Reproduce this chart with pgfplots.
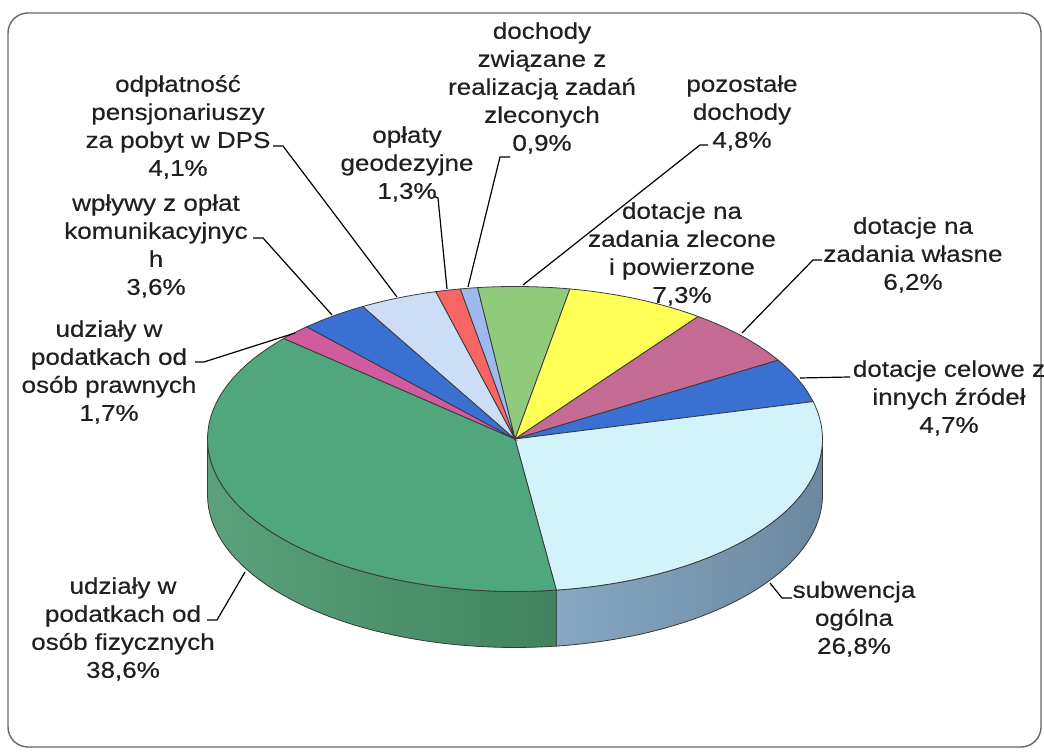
\documentclass[border=0pt]{standalone}
\usepackage{pgfplots}
\pgfplotsset{compat=1.18}
\usepackage{fontspec}
\setmainfont{Liberation Sans}[FakeStretch=1.14, FakeBold=0.4]
\definecolor{cA}{HTML}{90CB7C}
\definecolor{cB}{HTML}{FFFF55}
\definecolor{cC}{HTML}{C46A93}
\definecolor{cD}{HTML}{3A70D2}
\definecolor{cE}{HTML}{D2F3FC}
\definecolor{cEs}{HTML}{7DA0BC}
\definecolor{cF}{HTML}{50A67D}
\definecolor{cFs}{HTML}{4C9A70}
\definecolor{cG}{HTML}{D25A9E}
\definecolor{cH}{HTML}{3A70D2}
\definecolor{cI}{HTML}{CCDDF6}
\definecolor{cJ}{HTML}{F76565}
\definecolor{cK}{HTML}{9DB9EF}
\definecolor{edge}{HTML}{3A3A3A}
\definecolor{txt}{HTML}{202020}
\newcommand\lbl{\fontsize{11.4}{14}\selectfont}
\def\cx{515}\def\cy{314}\def\ra{307.5}\def\rb{152.5}\def\dep{56}
\begin{document}
\begin{tikzpicture}
\begin{axis}[scale only axis, width=522pt, height=376.5pt,
  xmin=0, xmax=1044, ymin=0, ymax=753, hide axis, clip=false]
\path (rel axis cs:0,0) rectangle (rel axis cs:1,1);
\draw[gray!80!black, line width=0.7pt, rounded corners=10pt] (axis cs:8,740) rectangle (axis cs:1041,6);
% shares in percent: value / top colour / side colour
\gdef\cum{-7}
\foreach \v/\c/\sc in {4.8/cA/cA, 7.3/cB/cB, 6.2/cC/cC, 4.7/cD/cD, 26.8/cE/cEs,
  38.6/cF/cFs, 1.7/cG/cG, 3.6/cH/cH, 4.1/cI/cI, 1.3/cJ/cJ, 0.9/cK/cK}{
  \pgfmathsetmacro\s{\cum}
  \pgfmathsetmacro\e{\cum+3.6*\v}
  \xdef\cum{\e}
  \pgfmathsetmacro\sa{max(\s,90)}
  \pgfmathsetmacro\ea{min(\e,270)}
  \pgfmathtruncatemacro\vis{(\ea>\sa) ? 1 : 0}
  \ifnum\vis=1
    \edef\tmp{\noexpand\addplot[fill=\sc, left color=\sc!92!white, right color=\sc!85!black, draw=edge, line width=0.4pt, samples at={0,...,81}, variable=\noexpand\t]
      ({\cx+\ra*sin(ifthenelse(\noexpand\t<40.5, \sa+(\ea-\sa)*\noexpand\t/40, \ea-(\ea-\sa)*(\noexpand\t-41)/40))},
       {\cy+\rb*cos(ifthenelse(\noexpand\t<40.5, \sa+(\ea-\sa)*\noexpand\t/40, \ea-(\ea-\sa)*(\noexpand\t-41)/40))-\dep*(\noexpand\t>40.5)}) -- cycle;}
    \tmp
  \fi
  \edef\tmp{\noexpand\addplot[fill=\c, draw=edge, line width=0.4pt, domain=\s:\e, samples=60, variable=\noexpand\t]
    ({\cx+\ra*sin(\noexpand\t)},{\cy+\rb*cos(\noexpand\t)}) -- (axis cs:\cx,\cy) -- cycle;}
  \tmp
}
% leader lines
\begin{scope}[black, line width=0.6pt]
\draw (axis cs:273,607) -- (axis cs:283,607) -- (axis cs:397,456);
\draw (axis cs:253,515) -- (axis cs:263,515) -- (axis cs:332,438);
\draw (axis cs:195,391) -- (axis cs:204,391) -- (axis cs:295,420);
\draw (axis cs:434,557) -- (axis cs:438,555) -- (axis cs:447,464);
\draw (axis cs:510,596) -- (axis cs:500,596) -- (axis cs:468,466);
\draw (axis cs:708,608) -- (axis cs:700,608) -- (axis cs:523,468);
\draw (axis cs:822,493) -- (axis cs:813,493) -- (axis cs:742,420);
\draw (axis cs:850,376) -- (axis cs:800,375);
\draw (axis cs:792,155) -- (axis cs:782,155) -- (axis cs:770,170);
\draw (axis cs:207,133) -- (axis cs:217,133) -- (axis cs:245,181);
\end{scope}
% labels
\begin{scope}[every node/.style={font=\lbl, align=center, text=txt, inner sep=0pt}]
\node at (axis cs:178,626) {odpłatność\\pensjonariuszy\\za pobyt w DPS\\4,1\%};
\node at (axis cs:156,507) {wpływy z opłat\\komunikacyjnyc\\h\\3,6\%};
\node at (axis cs:109,381) {udziały w\\podatkach od\\osób prawnych\\1,7\%};
\node at (axis cs:407,589) {opłaty\\geodezyjne\\1,3\%};
\node at (axis cs:542,665) {dochody\\związane z\\realizacją zadań\\zleconych\\0,9\%};
\node at (axis cs:742,640) {pozostałe\\dochody\\4,8\%};
\node at (axis cs:682,499) {dotacje na\\zadania zlecone\\i powierzone\\7,3\%};
\node at (axis cs:913,498) {dotacje na\\zadania własne\\6,2\%};
\node at (axis cs:949,355) {dotacje celowe z\\innych źródeł\\4,7\%};
\node at (axis cs:854,134) {subwencja\\ogólna\\26,8\%};
\node at (axis cs:123,124) {udziały w\\podatkach od\\osób fizycznych\\38,6\%};
\end{scope}
\end{axis}
\pgfresetboundingbox
\path (current axis.south west) rectangle (current axis.north east);
\end{tikzpicture}
\end{document}
